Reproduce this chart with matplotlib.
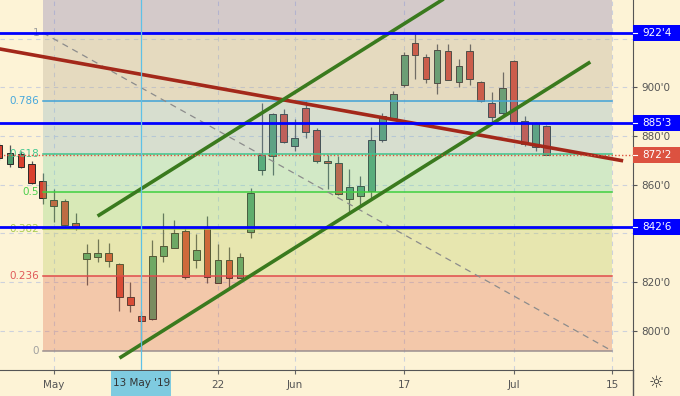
import numpy as np
import pandas as pd
import matplotlib
matplotlib.use("Agg")
from matplotlib import pyplot as plt
from matplotlib import colors as mcolors
from matplotlib.patches import Rectangle
from matplotlib.lines import Line2D

# daily bars, exchange holidays skipped
holidays = ["2019-05-27", "2019-07-04"]
calendar = [d for d in pd.bdate_range("2019-04-24", "2019-07-19")
            if d.strftime("%Y-%m-%d") not in holidays]

opens  = [876.3, 868.5, 872.6, 868.5, 861.5, 853.7, 853.3, 844.3, 829.5, 830.4,
          832.0, 827.5, 814.0, 806.2, 805.0, 830.8, 834.0, 841.0, 829.1, 842.2,
          819.6, 829.1, 821.7, 840.6, 866.0, 871.8, 889.0, 875.9, 891.5, 882.5,
          869.7, 868.9, 854.1, 855.4, 857.4, 878.4, 887.4, 900.9, 918.2, 912.4,
          901.8, 914.9, 902.2, 914.9, 902.2, 893.5, 889.4, 910.8, 886.1, 875.5,
          884.1]
highs  = [877.1, 876.3, 873.8, 869.7, 864.8, 858.2, 854.1, 848.4, 835.7, 837.7,
          836.1, 827.9, 820.1, 808.2, 837.4, 848.4, 845.5, 842.2, 839.8, 847.1,
          835.7, 834.4, 832.0, 858.6, 893.5, 889.4, 891.1, 887.0, 894.4, 883.3,
          872.2, 871.8, 866.5, 863.6, 883.7, 889.4, 898.5, 914.5, 922.4, 913.7,
          917.8, 917.8, 911.6, 917.8, 902.6, 898.1, 906.3, 911.2, 888.2, 885.8,
          884.5]
lows   = [870.2, 867.3, 866.9, 860.3, 852.1, 844.7, 843.0, 841.4, 818.9, 828.3,
          826.2, 808.2, 807.8, 791.7, 804.6, 828.3, 834.0, 821.3, 825.9, 819.6,
          819.6, 817.6, 821.7, 838.1, 864.0, 864.0, 877.1, 873.8, 879.2, 868.9,
          858.2, 855.8, 848.4, 851.7, 854.5, 877.5, 886.6, 900.1, 903.4, 901.8,
          897.2, 903.0, 900.1, 900.9, 894.0, 885.8, 888.6, 884.9, 875.9, 873.8,
          872.2]
closes = [871.0, 873.0, 867.3, 860.7, 854.5, 851.3, 843.4, 842.6, 832.0, 832.0,
          828.7, 814.0, 810.7, 804.1, 830.8, 834.8, 840.2, 822.1, 833.2, 822.1,
          829.1, 821.7, 830.4, 856.6, 872.2, 889.0, 877.5, 879.2, 881.6, 869.7,
          868.9, 856.2, 859.1, 859.5, 878.4, 888.2, 897.2, 913.3, 913.3, 903.4,
          915.3, 903.0, 908.7, 903.4, 894.4, 887.8, 899.7, 885.7, 876.7, 885.3,
          872.25]

# horizontal levels drawn by hand
h_levels = [922.5, 885.375, 842.75]

# fib retracement
fib_levels = [0, 0.236, 0.382, 0.5, 0.618, 0.786, 1]
fib_top = 1.272
fib_dates = ["2019-04-30", "2019-07-15"]

# trend lines: (date, price) pairs
red_line = [("2019-04-24", 915.8), ("2019-07-16", 869.8)]
green_up = [("2019-05-07", 847.1), ("2019-06-24", 940.2)]
green_lo = [("2019-05-09", 788.8), ("2019-07-11", 910.4)]

price_ticks = [800, 820, 840, 860, 880, 900, 920]
hidden_ticks = [840, 920]  # sit under the level tags
tick_dates = ["2019-05-01", "2019-05-22", "2019-06-03", "2019-06-17", "2019-07-01", "2019-07-15"]
tick_labels = ["May", "22", "Jun", "17", "Jul", "15"]
cross_date = "2019-05-13"
cross_label = "13 May '19"

bg = "#fdf3d6"
up_col, dn_col = "#4f9d6c", "#d8402f"
zone_targets = ["#f3c9ab", "#e8e6b0", "#d9eab8", "#d3eac7", "#d8dfd0", "#e6dbc0", "#d5cbcb"]
line_cols = ["#9a8f90", "#e04b4b", "#9ccc3a", "#3fcf3f", "#3cc58e", "#3fa3d8", "#9a9a9a"]
label_cols = ["#a0a0a0", "#e05a5a", "#a8cc50", "#4ccf4c", "#44c890", "#48a8dc", "#a0a0a0"]
zone_alpha = 0.3

XLIM = (0.09, 57.9)
YLIM = (783.9, 935.85)
AX_W = 633 / 680


def idx(date):
    return [d.strftime("%Y-%m-%d") for d in calendar].index(date)


def fmt(p):
    return "{}'{}".format(int(p), int(round((p % 1) * 8)))


def overlay(target):
    t = np.array(mcolors.to_rgb(target))
    b = np.array(mcolors.to_rgb(bg))
    return tuple(np.clip((t - (1 - zone_alpha) * b) / zone_alpha, 0, 1))


plt.rcParams["font.family"] = "DejaVu Sans"
fig = plt.figure(figsize=(6.8, 3.96), dpi=100)
fig.patch.set_facecolor(bg)
ax = fig.add_axes([0, 26 / 396, AX_W, 370 / 396])
ax.set_facecolor(bg)
ax.set_xlim(*XLIM)
ax.set_ylim(*YLIM)

# grid
ax.set_axisbelow(True)
ax.grid(True, color="#cdd1dc", ls=(0, (4, 4)), lw=0.8)

# candles
x = np.arange(len(opens))
o, h, l, c = map(np.array, (opens, highs, lows, closes))
up = c >= o
ax.vlines(x, l, h, color="#555555", lw=0.9, zorder=2)
body = np.maximum(np.abs(c - o), 0.4)
ax.bar(x, body, bottom=np.minimum(o, c), width=0.62,
       color=np.where(up, up_col, dn_col), edgecolor="#2a2a2a", lw=0.7, zorder=3)

# fib zones and levels
lo, hi = min(lows), max(highs)
f0, f1 = idx(fib_dates[0]), idx(fib_dates[1])
edges = fib_levels + [fib_top]
for i in range(len(edges) - 1):
    y0 = lo + (hi - lo) * edges[i]
    y1 = lo + (hi - lo) * edges[i + 1]
    ax.add_patch(Rectangle((f0, y0), f1 - f0, y1 - y0, facecolor=overlay(zone_targets[i]),
                           alpha=zone_alpha, lw=0, zorder=4))
for lev, lc, tc in zip(fib_levels, line_cols, label_cols):
    y = lo + (hi - lo) * lev
    ax.plot([f0, f1], [y, y], color=lc, lw=1.1, zorder=5)
    ax.text(f0 - 0.35, y, "{:g}".format(lev), color=tc, fontsize=7.5,
            ha="right", va="center", zorder=5)
ax.plot([f0, f1], [hi, lo], color="#8c8c8c", ls=(0, (5, 4)), lw=0.9, zorder=5)

# trend lines
for pts, col in [(red_line, "#a3281a"), (green_up, "#3a7a1e"), (green_lo, "#3a7a1e")]:
    ax.plot([idx(pts[0][0]), idx(pts[1][0])], [pts[0][1], pts[1][1]],
            color=col, lw=2.6, solid_capstyle="butt", zorder=6)

# last price and horizontal levels
ax.axhline(closes[-1], color="#e0533f", ls=(0, (1, 1.5)), lw=1, zorder=6)
for p in h_levels:
    ax.axhline(p, color="#0000ff", lw=2, zorder=7)

# crosshair
ax.axvline(idx(cross_date), color="#5ec1e6", lw=0.9, zorder=8)

# axes styling
for s in ["top", "left"]:
    ax.spines[s].set_visible(False)
for s in ["right", "bottom"]:
    ax.spines[s].set_color("#555555")
ax.yaxis.tick_right()
ax.set_yticks(price_ticks)
ax.set_yticklabels(["" if v in hidden_ticks else fmt(v) for v in price_ticks])
ax.tick_params(axis="y", colors="#555555", labelsize=7.5, length=3, pad=3)
ax.set_xticks([idx(d) for d in tick_dates])
ax.set_xticklabels(tick_labels)
ax.tick_params(axis="x", colors="#666666", labelcolor="#555555", labelsize=7.5, length=3, pad=4)
fig.add_artist(Line2D([AX_W, AX_W], [0, 26 / 396], color="#555555", lw=1))

# price tags on the right scale
tr = ax.get_yaxis_transform()
tag_h = 16 / 370 * (YLIM[1] - YLIM[0])
for p, col in [(h_levels[0], "#0000ff"), (h_levels[1], "#0000ff"),
               (closes[-1], "#dc5240"), (h_levels[2], "#0000ff")]:
    ax.add_patch(Rectangle((1.0, p - tag_h / 2), 47 / 633, tag_h, transform=tr,
                           facecolor=col, lw=0, clip_on=False, zorder=10))
    ax.plot([1.0, 1.0 + 4 / 633], [p, p], transform=tr, color="white", lw=0.8,
            clip_on=False, zorder=11)
    ax.text(1.0 + 9 / 633, p, fmt(p), transform=tr, color="white", fontsize=7.5,
            ha="left", va="center", zorder=11)

# crosshair date label, filling the time scale strip
cx = (idx(cross_date) - XLIM[0]) / (XLIM[1] - XLIM[0]) * AX_W
fig.add_artist(Rectangle((cx - 30 / 680, 0), 60 / 680, 25 / 396, transform=fig.transFigure,
                         facecolor="#7fcbe0", lw=0, zorder=10))
fig.text(cx, 13 / 396, cross_label, ha="center", va="center", fontsize=7.5,
         color="#333333", zorder=11)

fig.text(656 / 680, 13 / 396, "\u263c", fontsize=12, color="#333333", ha="center", va="center")

fig.savefig("out.png", dpi=100, facecolor=bg)
